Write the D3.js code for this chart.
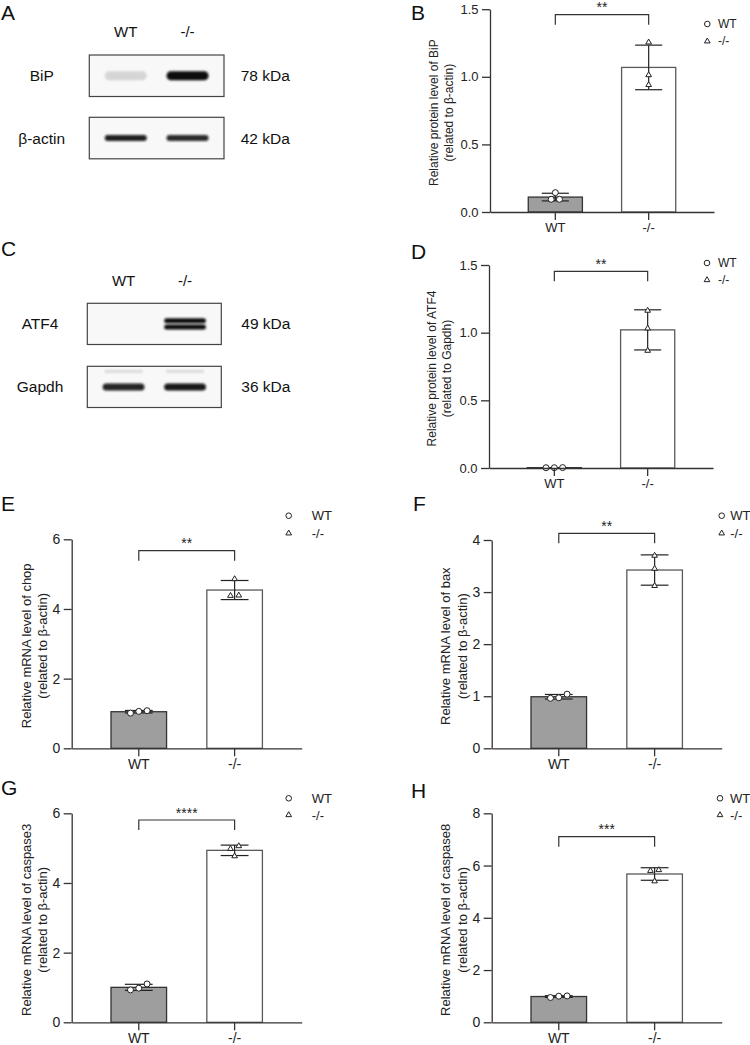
<!DOCTYPE html>
<html>
<head>
<meta charset="utf-8">
<script src="https://cdn.jsdelivr.net/npm/d3@7"></script>
<style>
  body { margin: 0; background: #fff; }
  svg { font-family: "Liberation Sans", Arial, sans-serif; }
</style>
</head>
<body>
<div id="canvas"></div>
<script>
// ---- data ----
const groups = ["WT", "-/-"];

// western blots (relative band intensity per lane)
const blotLanes = ["WT", "-/-"];
const blotProteinsA = ["BiP", "β-actin"];
const blotSizesA = ["78 kDa", "42 kDa"];
const bipBand = [0.14, 1.0];
const actinBand = [0.92, 0.88];
const blotProteinsC = ["ATF4", "Gapdh"];
const blotSizesC = ["49 kDa", "36 kDa"];
const atf4Band = [0.0, 1.0];
const gapdhBand = [0.9, 0.95];

// quantification, three replicates per group
const bipWT = [0.094, 0.094, 0.143];
const bipKO = [1.255, 1.013, 0.940];
const atf4WT = [0.002, 0.003, 0.002];
const atf4KO = [1.163, 1.032, 0.867];
const chopWT = [1.01, 1.08, 1.06];
const chopKO = [4.86, 4.38, 4.39];
const baxWT = [0.96, 1.04, 0.97];
const baxKO = [3.70, 3.45, 3.12];
const casp3WT = [1.10, 0.93, 0.98];
const casp3KO = [5.06, 4.98, 4.77];
const casp8WT = [0.95, 1.01, 1.00];
const casp8KO = [5.83, 5.80, 5.40];

const proteinTicks = [0, 0.5, 1.0, 1.5];
const chopTicks = [0, 2, 4, 6];
const baxTicks = [0, 1, 2, 3, 4];
const casp3Ticks = [0, 2, 4, 6];
const casp8Ticks = [0, 2, 4, 6, 8];

const significance = ["**", "**", "**", "**", "****", "***"];
const yTitles = [
  ["Relative protein level of BiP", "(related to β-actin)"],
  ["Relative protein level of ATF4", "(related to Gapdh)"],
  ["Relative mRNA level of chop", "(related to β-actin)"],
  ["Relative mRNA level of bax", "(related to β-actin)"],
  ["Relative mRNA level of caspase3", "(related to β-actin)"],
  ["Relative mRNA level of caspase8", "(related to β-actin)"]
];

// ---- layout ----
const svg = d3.select("#canvas").append("svg")
  .attr("width", 750)
  .attr("height", 1045);

const defs = svg.append("defs");
defs.append("filter").attr("id", "blur")
  .attr("x", "-20%").attr("y", "-60%").attr("width", "140%").attr("height", "220%")
  .append("feGaussianBlur").attr("stdDeviation", 1.1);

const ink = "#333";

function letter(txt, x, y) {
  svg.append("text").attr("x", x).attr("y", y)
    .attr("font-size", 21).attr("fill", "#111").text(txt);
}

// ---- blots ----
const blotStyle = {
  BiP: { thick: 9, doublet: false, ghost: 0 },
  "β-actin": { thick: 6, doublet: false, ghost: 0 },
  ATF4: { thick: 5, doublet: true, ghost: 0 },
  Gapdh: { thick: 7, doublet: false, ghost: 0.12 }
};

function drawBlot(cfg, proteins, sizes, levels) {
  const g = svg.append("g");
  const lane = d3.scaleBand().domain(blotLanes)
    .range([cfg.x, cfg.x + cfg.w])
    .paddingInner(0.32).paddingOuter(0.25);

  g.selectAll(".lane").data(blotLanes).join("text")
    .attr("x", d => lane(d) + lane.bandwidth() / 2)
    .attr("y", cfg.labelY)
    .attr("text-anchor", "middle")
    .attr("dominant-baseline", "central")
    .attr("font-size", 15).attr("fill", "#111")
    .text(d => d);

  proteins.forEach((p, r) => {
    const top = cfg.rows[r];
    const mid = top + cfg.h / 2;
    const st = blotStyle[p];

    g.append("rect")
      .attr("x", cfg.x).attr("y", top)
      .attr("width", cfg.w).attr("height", cfg.h)
      .attr("fill", "#f8f8f8").attr("stroke", "#444").attr("stroke-width", 1.2);

    g.append("text").attr("x", cfg.nameX).attr("y", mid)
      .attr("text-anchor", "middle").attr("dominant-baseline", "central")
      .attr("font-size", 15.5).attr("fill", "#111").text(p);

    g.append("text").attr("x", cfg.kdaX).attr("y", mid)
      .attr("dominant-baseline", "central")
      .attr("font-size", 15.5).attr("fill", "#111").text(sizes[r]);

    const offsets = st.doublet ? [-3.2, 3.2] : [0];
    offsets.forEach(off => {
      g.selectAll(null).data(levels[r]).join("rect")
        .attr("x", (d, i) => lane(blotLanes[i]))
        .attr("y", mid + off - st.thick / 2)
        .attr("width", lane.bandwidth())
        .attr("height", st.thick)
        .attr("rx", st.thick / 2)
        .attr("fill", "#0a0a0a")
        .attr("fill-opacity", d => d)
        .attr("filter", "url(#blur)");
    });
    if (st.ghost > 0) {
      g.selectAll(null).data(levels[r]).join("rect")
        .attr("x", (d, i) => lane(blotLanes[i]) + 2)
        .attr("y", mid - 17)
        .attr("width", lane.bandwidth() - 4)
        .attr("height", 3)
        .attr("fill", "#000")
        .attr("fill-opacity", st.ghost)
        .attr("filter", "url(#blur)");
    }
  });
}

letter("A", 1, 20);
drawBlot({ x: 89.3, w: 134.7, h: 41.5, rows: [55, 117.3], labelY: 31.7, nameX: 41.7, kdaX: 240.7 },
  blotProteinsA, blotSizesA, [bipBand, actinBand]);

letter("C", 1, 256);
drawBlot({ x: 87.3, w: 134, h: 41.2, rows: [303.3, 366.3], labelY: 280, nameX: 40, kdaX: 241.3 },
  blotProteinsC, blotSizesC, [atf4Band, gapdhBand]);

// ---- bar panels ----
const panels = [
  { letter: "B", values: [bipWT, bipKO], ticks: proteinTicks, fmt: ".1f",
    ax: 490, axEnd: 714, y0: 212, yTop: 9.2, brY: 14.7,
    legX: 707.3, legTx: 10.7, legY: 24, legGap: 17.3, t1: -56, t2: -41, fs: 12, lx: 411, ly: 20 },
  { letter: "D", values: [atf4WT, atf4KO], ticks: proteinTicks, fmt: ".1f",
    ax: 489, axEnd: 713, y0: 468, yTop: 265, brY: 271.3,
    legX: 707, legTx: 11, legY: 263, legGap: 17, t1: -57, t2: -42, fs: 12, lx: 411, ly: 259 },
  { letter: "E", values: [chopWT, chopKO], ticks: chopTicks, fmt: "d",
    ax: 71.7, axEnd: 301.7, y0: 748.3, yTop: 539.3, brY: 550.7,
    legX: 288.7, legTx: 23, legY: 515.7, legGap: 17.6, t1: -45, t2: -29, fs: 13, lx: 1, ly: 511 },
  { letter: "F", values: [baxWT, baxKO], ticks: baxTicks, fmt: "d",
    ax: 491.7, axEnd: 721.7, y0: 748.3, yTop: 540, brY: 533.3,
    legX: 721.7, legTx: 8.5, legY: 515.7, legGap: 17.6, t1: -46.5, t2: -29, fs: 13, lx: 413, ly: 511 },
  { letter: "G", values: [casp3WT, casp3KO], ticks: casp3Ticks, fmt: "d",
    ax: 71.7, axEnd: 301.7, y0: 1022.3, yTop: 813.3, brY: 820,
    legX: 288.7, legTx: 23, legY: 798.3, legGap: 16.7, t1: -45.5, t2: -29, fs: 13, lx: 1, ly: 795 },
  { letter: "H", values: [casp8WT, casp8KO], ticks: casp8Ticks, fmt: "d",
    ax: 491.7, axEnd: 721.7, y0: 1022.3, yTop: 813.3, brY: 836.7,
    legX: 720, legTx: 10, legY: 798.3, legGap: 16.7, t1: -46.5, t2: -29, fs: 13, lx: 411, ly: 798 }
];

const triangle = d3.symbol().type(d3.symbolTriangle).size(14);

// spread replicates that would overlap
function swarm(vals, y) {
  const idx = d3.range(vals.length).sort((a, b) => vals[a] - vals[b]);
  const clusters = [];
  let cur = [idx[0]];
  for (let k = 1; k < idx.length; k++) {
    if (Math.abs(y(vals[idx[k]]) - y(vals[idx[k - 1]])) < 5.5) cur.push(idx[k]);
    else { clusters.push(cur); cur = [idx[k]]; }
  }
  clusters.push(cur);
  const off = new Array(vals.length).fill(0);
  clusters.forEach(c => c.forEach((i, j) => { off[i] = (j - (c.length - 1) / 2) * 8.3; }));
  return off;
}

panels.forEach((p, pi) => {
  const g = svg.append("g");

  const x = d3.scaleBand().domain(groups)
    .range([p.ax, p.axEnd])
    .paddingInner(0.42).paddingOuter(0.41);
  const y = d3.scaleLinear()
    .domain([0, d3.max(p.ticks)])
    .range([p.y0, p.yTop]);

  const stats = p.values.map((v, i) => ({
    group: groups[i], vals: v, mean: d3.mean(v), sd: d3.deviation(v)
  }));

  // bars
  g.selectAll(".bar").data(stats).join("rect")
    .attr("x", d => x(d.group))
    .attr("y", d => y(d.mean))
    .attr("width", x.bandwidth())
    .attr("height", d => p.y0 - y(d.mean))
    .attr("fill", (d, i) => i === 0 ? "#9e9e9e" : "#fff")
    .attr("stroke", (d, i) => i === 0 ? "#333" : "#5a5a5a")
    .attr("stroke-width", 1.3);

  // error bars (mean ± SD)
  const cx = d => x(d.group) + x.bandwidth() / 2;
  const cap = x.bandwidth() / 4;
  g.selectAll(".err").data(stats).join("line")
    .attr("x1", cx).attr("x2", cx)
    .attr("y1", d => y(d.mean - d.sd)).attr("y2", d => y(d.mean + d.sd))
    .attr("stroke", "#222").attr("stroke-width", 1.2);
  [-1, 1].forEach(s => {
    g.selectAll(null).data(stats).join("line")
      .attr("x1", d => cx(d) - cap).attr("x2", d => cx(d) + cap)
      .attr("y1", d => y(d.mean + s * d.sd)).attr("y2", d => y(d.mean + s * d.sd))
      .attr("stroke", "#222").attr("stroke-width", 1.2);
  });

  // replicate points
  stats.forEach((d, i) => {
    const off = swarm(d.vals, y);
    const pts = d.vals.map((v, k) => ({ v, dx: off[k] }));
    if (i === 0) {
      g.selectAll(null).data(pts).join("circle")
        .attr("cx", q => cx(d) + q.dx).attr("cy", q => y(q.v))
        .attr("r", 3)
        .attr("fill", "#fff").attr("stroke", "#222").attr("stroke-width", 1);
    } else {
      g.selectAll(null).data(pts).join("path")
        .attr("d", triangle)
        .attr("transform", q => `translate(${cx(d) + q.dx},${y(q.v)})`)
        .attr("fill", "#fff").attr("stroke", "#222").attr("stroke-width", 1);
    }
  });

  // axes
  const yAxis = d3.axisLeft(y).tickValues(p.ticks)
    .tickFormat(d3.format(p.fmt)).tickSize(8).tickSizeOuter(0).tickPadding(3.5);
  const xAxis = d3.axisBottom(x).tickSize(8).tickSizeOuter(0).tickPadding(3);

  const yg = g.append("g").attr("transform", `translate(${p.ax},0)`).call(yAxis);
  const xg = g.append("g").attr("transform", `translate(0,${p.y0})`).call(xAxis);
  [yg, xg].forEach(a => {
    a.select(".domain").attr("stroke", ink).attr("stroke-width", 1.3);
    a.selectAll(".tick line").attr("stroke", ink).attr("stroke-width", 1.3);
    a.selectAll(".tick text").attr("fill", "#222")
      .attr("font-size", p.fs + 1)
      .attr("font-family", "Liberation Sans, Arial, sans-serif");
  });

  // y title
  const cy = (p.y0 + p.yTop) / 2 + 2;
  [p.t1, p.t2].forEach((t, li) => {
    g.append("text")
      .attr("transform", `translate(${p.ax + t},${cy}) rotate(-90)`)
      .attr("text-anchor", "middle")
      .attr("dominant-baseline", "central")
      .attr("font-size", p.fs).attr("fill", "#222")
      .text(yTitles[pi][li]);
  });

  // significance bracket
  const xa = cx(stats[0]), xb = cx(stats[1]);
  g.append("path")
    .attr("d", `M${xa},${p.brY + 10}V${p.brY}H${xb}V${p.brY + 10}`)
    .attr("fill", "none").attr("stroke", ink).attr("stroke-width", 1.2);
  g.append("text")
    .attr("x", (xa + xb) / 2).attr("y", p.brY - 2.5)
    .attr("text-anchor", "middle")
    .attr("font-size", 14).attr("fill", "#222")
    .text(significance[pi]);

  // legend
  const leg = g.append("g");
  groups.forEach((name, i) => {
    const ly = p.legY + i * p.legGap;
    if (i === 0) {
      leg.append("circle").attr("cx", p.legX).attr("cy", ly).attr("r", 2.8)
        .attr("fill", "#fff").attr("stroke", "#222").attr("stroke-width", 1);
    } else {
      leg.append("path").attr("d", triangle)
        .attr("transform", `translate(${p.legX},${ly})`)
        .attr("fill", "#fff").attr("stroke", "#222").attr("stroke-width", 1);
    }
    leg.append("text").attr("x", p.legX + p.legTx).attr("y", ly)
      .attr("dominant-baseline", "central")
      .attr("font-size", p.fs).attr("fill", "#222")
      .text(name);
  });

  letter(p.letter, p.lx, p.ly);
});
</script>
</body>
</html>
